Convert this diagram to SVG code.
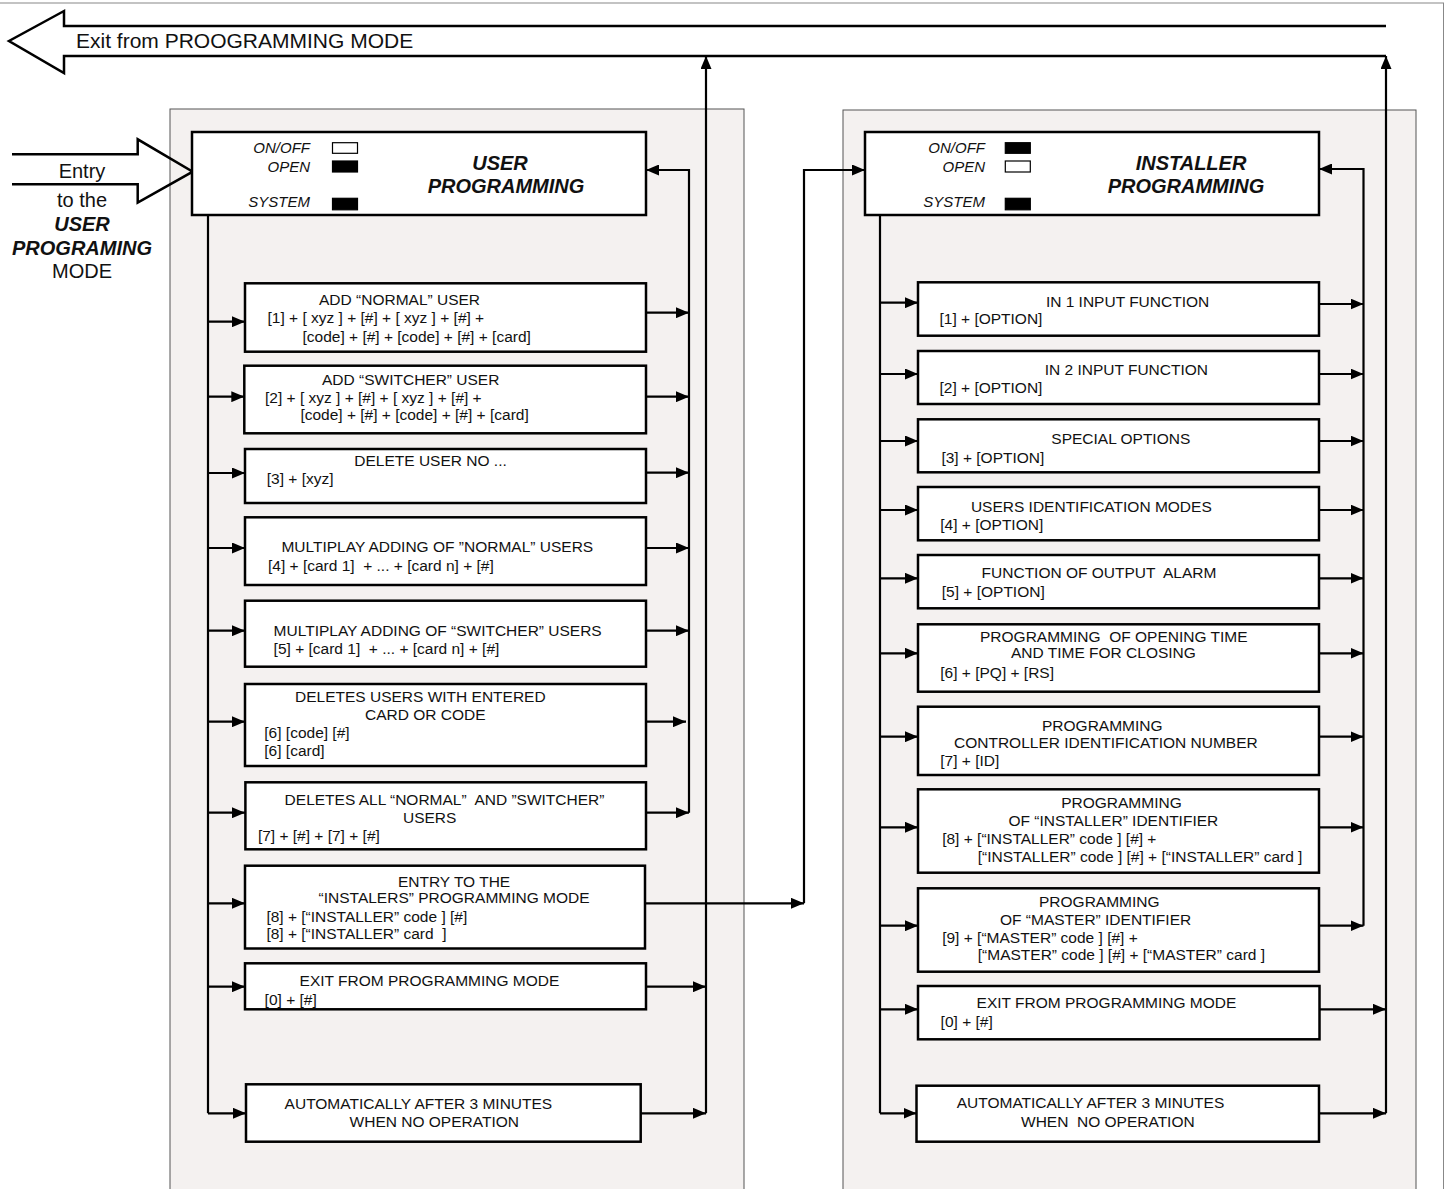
<svg xmlns="http://www.w3.org/2000/svg" width="1450" height="1189" viewBox="0 0 1450 1189">
<defs>
<marker id="ah" markerUnits="userSpaceOnUse" markerWidth="13" markerHeight="11" refX="13" refY="5.5" orient="auto"><path d="M0,0 L13,5.5 L0,11 z" fill="#000"/></marker>
<style>
.panel{fill:#f4f1f0;stroke:#555;stroke-width:1}
.box{fill:#fff;stroke:#000;stroke-width:2.5}
.t{font-family:"Liberation Sans",Arial,sans-serif;font-size:15.5px;fill:#111;white-space:pre}
.lbl{font-family:"Liberation Sans",Arial,sans-serif;font-size:15px;font-style:italic;fill:#111;text-anchor:end}
.ttl{font-family:"Liberation Sans",Arial,sans-serif;font-size:20px;font-style:italic;font-weight:bold;fill:#111;text-anchor:middle}
.big{font-family:"Liberation Sans",Arial,sans-serif;font-size:20px;fill:#111;text-anchor:middle}
.conn{fill:none;stroke:#000;stroke-width:2.2}
.ind{stroke:#000;stroke-width:1.2}
.bigarrow{fill:none;stroke:#000;stroke-width:2.5}
</style>
</defs>
<rect x="-2" y="3" width="1445.5" height="1200" fill="#fff" stroke="#888" stroke-width="1"/>

<g id="exit-arrow">
<polyline class="bigarrow" points="1386,26 64,26 64,11 9,41 64,73 64,56 1386,56"/>
<text x="76" y="48" font-family="Liberation Sans,Arial,sans-serif" font-size="21" fill="#111">Exit from PROOGRAMMING MODE</text>
</g>

<rect id="panel-user" class="panel" x="170" y="109" width="574" height="1090"/>
<rect id="panel-installer" class="panel" x="843" y="110" width="573" height="1090"/>

<g id="entry-arrow">
<polyline class="bigarrow" points="12,154.3 137.7,154.3 137.7,139.3 192.7,171.7 137.7,202.7 137.7,184.3 12,184.3"/>
<text class="big" x="82" y="178">Entry</text>
<text class="big" x="82" y="207">to the</text>
<text class="big" x="82" y="231" font-weight="bold" font-style="italic">USER</text>
<text class="big" x="82" y="255" font-weight="bold" font-style="italic">PROGRAMING</text>
<text class="big" x="82" y="278">MODE</text>
</g>

<g id="connectors">
<!-- left panel -->
<path class="conn" d="M208,215 V1113.3"/>
<path class="conn" marker-end="url(#ah)" d="M208,321.7 H245"/>
<path class="conn" marker-end="url(#ah)" d="M208,396.7 H244.3"/>
<path class="conn" marker-end="url(#ah)" d="M208,473 H245"/>
<path class="conn" marker-end="url(#ah)" d="M208,548 H245"/>
<path class="conn" marker-end="url(#ah)" d="M208,630.7 H245"/>
<path class="conn" marker-end="url(#ah)" d="M208,721.7 H245"/>
<path class="conn" marker-end="url(#ah)" d="M208,812.7 H245"/>
<path class="conn" marker-end="url(#ah)" d="M208,903.3 H245"/>
<path class="conn" marker-end="url(#ah)" d="M208,986.7 H245"/>
<path class="conn" marker-end="url(#ah)" d="M208,1113.3 H246"/>
<path class="conn" marker-end="url(#ah)" d="M646,312.7 H689"/>
<path class="conn" marker-end="url(#ah)" d="M646,396.7 H689"/>
<path class="conn" marker-end="url(#ah)" d="M646,472.7 H689"/>
<path class="conn" marker-end="url(#ah)" d="M646,548 H689"/>
<path class="conn" marker-end="url(#ah)" d="M646,630.7 H689"/>
<path class="conn" marker-end="url(#ah)" d="M646,721.7 H686"/>
<path class="conn" marker-end="url(#ah)" d="M646,812.7 H689"/>
<path class="conn" marker-end="url(#ah)" d="M689,812.7 V170 H646"/>
<path class="conn" marker-end="url(#ah)" d="M646,986.7 H706"/>
<path class="conn" marker-end="url(#ah)" d="M641,1113.3 H706"/>
<path class="conn" marker-end="url(#ah)" d="M706,1113.3 V56"/>
<path class="conn" marker-end="url(#ah)" d="M645,903.3 H804"/>
<path class="conn" marker-end="url(#ah)" d="M804,903.3 V170 H865"/>
<!-- right panel -->
<path class="conn" d="M880,215 V1113.3"/>
<path class="conn" marker-end="url(#ah)" d="M880,302.7 H918"/>
<path class="conn" marker-end="url(#ah)" d="M880,374 H918"/>
<path class="conn" marker-end="url(#ah)" d="M880,441 H918"/>
<path class="conn" marker-end="url(#ah)" d="M880,510 H918"/>
<path class="conn" marker-end="url(#ah)" d="M880,578.3 H918"/>
<path class="conn" marker-end="url(#ah)" d="M880,653.3 H918"/>
<path class="conn" marker-end="url(#ah)" d="M880,736.7 H918"/>
<path class="conn" marker-end="url(#ah)" d="M880,827.3 H918"/>
<path class="conn" marker-end="url(#ah)" d="M880,925.7 H918"/>
<path class="conn" marker-end="url(#ah)" d="M880,1009.3 H918"/>
<path class="conn" marker-end="url(#ah)" d="M880,1113.3 H916.5"/>
<path class="conn" marker-end="url(#ah)" d="M1319,304 H1363.5"/>
<path class="conn" marker-end="url(#ah)" d="M1319,374 H1363.5"/>
<path class="conn" marker-end="url(#ah)" d="M1319,441 H1363.5"/>
<path class="conn" marker-end="url(#ah)" d="M1319,510 H1363.5"/>
<path class="conn" marker-end="url(#ah)" d="M1319,578.3 H1363.5"/>
<path class="conn" marker-end="url(#ah)" d="M1319,653.3 H1363.5"/>
<path class="conn" marker-end="url(#ah)" d="M1319,736.7 H1363.5"/>
<path class="conn" marker-end="url(#ah)" d="M1319,827.3 H1363.5"/>
<path class="conn" marker-end="url(#ah)" d="M1319,925.7 H1363.5"/>
<path class="conn" marker-end="url(#ah)" d="M1363.5,925.7 V169 H1319"/>
<path class="conn" marker-end="url(#ah)" d="M1319.5,1009.3 H1386"/>
<path class="conn" marker-end="url(#ah)" d="M1319,1113.3 H1386"/>
<path class="conn" marker-end="url(#ah)" d="M1386,1113.3 V56"/>
</g>

<g id="user-header">
<rect class="box" x="192" y="132" width="454" height="83"/>
<text class="lbl" x="310" y="153">ON/OFF</text>
<text class="lbl" x="310" y="172">OPEN</text>
<text class="lbl" x="310" y="207">SYSTEM</text>
<rect class="ind" x="332.5" y="142.7" width="25" height="10.6" fill="#fff"/>
<rect class="ind" x="332.5" y="161" width="25" height="11" fill="#000"/>
<rect class="ind" x="332.5" y="198.3" width="25" height="11.5" fill="#000"/>
<text class="ttl" x="500" y="170">USER</text>
<text class="ttl" x="506" y="193">PROGRAMMING</text>
</g>

<g id="u1"><rect class="box" x="245" y="283.3" width="401" height="68.4"/>
<text class="t" x="319" y="305">ADD “NORMAL” USER</text>
<text class="t" x="267.5" y="323.3">[1] + [ xyz ] + [#] + [ xyz ] + [#] +</text>
<text class="t" x="302.5" y="341.7">[code] + [#] + [code] + [#] + [card]</text></g>

<g id="u2"><rect class="box" x="244.3" y="365.7" width="401.7" height="67.6"/>
<text class="t" x="322" y="385">ADD “SWITCHER” USER</text>
<text class="t" x="265" y="403.3">[2] + [ xyz ] + [#] + [ xyz ] + [#] +</text>
<text class="t" x="300.4" y="420">[code] + [#] + [code] + [#] + [card]</text></g>

<g id="u3"><rect class="box" x="245" y="449" width="401" height="54"/>
<text class="t" x="354.3" y="466">DELETE USER NO ...</text>
<text class="t" x="266.8" y="484.3">[3] + [xyz]</text></g>

<g id="u4"><rect class="box" x="245" y="517.3" width="401" height="67.7"/>
<text class="t" x="281.4" y="552.3">MULTIPLAY ADDING OF ”NORMAL” USERS</text>
<text class="t" x="268" y="570.7">[4] + [card 1]  + ... + [card n] + [#]</text></g>

<g id="u5"><rect class="box" x="245" y="600.7" width="401" height="66"/>
<text class="t" x="273.6" y="636">MULTIPLAY ADDING OF “SWITCHER” USERS</text>
<text class="t" x="273.6" y="654">[5] + [card 1]  + ... + [card n] + [#]</text></g>

<g id="u6"><rect class="box" x="245" y="684" width="401" height="82"/>
<text class="t" x="295" y="701.7">DELETES USERS WITH ENTERED</text>
<text class="t" x="365" y="720">CARD OR CODE</text>
<text class="t" x="264.3" y="737.7">[6] [code] [#]</text>
<text class="t" x="264.3" y="755.7">[6] [card]</text></g>

<g id="u7"><rect class="box" x="245.4" y="782.3" width="400.6" height="67"/>
<text class="t" x="284.6" y="805">DELETES ALL “NORMAL”  AND ”SWITCHER”</text>
<text class="t" x="403" y="822.7">USERS</text>
<text class="t" x="257.9" y="840.7">[7] + [#] + [7] + [#]</text></g>

<g id="u8"><rect class="box" x="245" y="865.7" width="400" height="82.8"/>
<text class="t" x="397.9" y="886.7">ENTRY TO THE</text>
<text class="t" x="318.6" y="903.3">“INSTALERS” PROGRAMMING MODE</text>
<text class="t" x="266.4" y="921.7">[8] + [“INSTALLER” code ] [#]</text>
<text class="t" x="266.4" y="939.3">[8] + [“INSTALLER” card  ]</text></g>

<g id="u9"><rect class="box" x="245" y="963.3" width="401" height="46"/>
<text class="t" x="299.6" y="985.7">EXIT FROM PROGRAMMING MODE</text>
<text class="t" x="264.6" y="1005">[0] + [#]</text></g>

<g id="u10"><rect class="box" x="246" y="1084.3" width="394.7" height="57.4"/>
<text class="t" x="284.6" y="1109">AUTOMATICALLY AFTER 3 MINUTES</text>
<text class="t" x="349.6" y="1126.7">WHEN NO OPERATION</text></g>

<g id="installer-header">
<rect class="box" x="865" y="132" width="454" height="83"/>
<text class="lbl" x="985" y="153">ON/OFF</text>
<text class="lbl" x="985" y="172">OPEN</text>
<text class="lbl" x="985" y="207">SYSTEM</text>
<rect class="ind" x="1005.3" y="142.7" width="25" height="10.6" fill="#000"/>
<rect class="ind" x="1005.3" y="161" width="25" height="11" fill="#fff"/>
<rect class="ind" x="1005.3" y="198.3" width="25" height="11.5" fill="#000"/>
<text class="ttl" x="1191" y="170">INSTALLER</text>
<text class="ttl" x="1186" y="193">PROGRAMMING</text>
</g>

<g id="i1"><rect class="box" x="918" y="282.3" width="401" height="53.4"/>
<text class="t" x="1045.9" y="306.7">IN 1 INPUT FUNCTION</text>
<text class="t" x="939.5" y="324">[1] + [OPTION]</text></g>

<g id="i2"><rect class="box" x="918" y="351" width="401" height="53"/>
<text class="t" x="1044.7" y="375">IN 2 INPUT FUNCTION</text>
<text class="t" x="939.5" y="393.3">[2] + [OPTION]</text></g>

<g id="i3"><rect class="box" x="918" y="419.3" width="401" height="53"/>
<text class="t" x="1051.3" y="444.3">SPECIAL OPTIONS</text>
<text class="t" x="941.4" y="462.7">[3] + [OPTION]</text></g>

<g id="i4"><rect class="box" x="918" y="487" width="401" height="53.3"/>
<text class="t" x="970.9" y="511.7">USERS IDENTIFICATION MODES</text>
<text class="t" x="940.3" y="530">[4] + [OPTION]</text></g>

<g id="i5"><rect class="box" x="918" y="555" width="401" height="53.3"/>
<text class="t" x="981.6" y="578.3">FUNCTION OF OUTPUT  ALARM</text>
<text class="t" x="941.8" y="596.7">[5] + [OPTION]</text></g>

<g id="i6"><rect class="box" x="918" y="624.3" width="401" height="67.4"/>
<text class="t" x="980" y="641.7">PROGRAMMING  OF OPENING TIME</text>
<text class="t" x="1011" y="658.3">AND TIME FOR CLOSING</text>
<text class="t" x="940.3" y="678.3">[6] + [PQ] + [RS]</text></g>

<g id="i7"><rect class="box" x="918" y="706.7" width="401" height="68.3"/>
<text class="t" x="1042" y="730.7">PROGRAMMING</text>
<text class="t" x="954" y="748.3">CONTROLLER IDENTIFICATION NUMBER</text>
<text class="t" x="940.3" y="766">[7] + [ID]</text></g>

<g id="i8"><rect class="box" x="918" y="789.3" width="401" height="83.4"/>
<text class="t" x="1061.2" y="808.3">PROGRAMMING</text>
<text class="t" x="1008.4" y="826">OF “INSTALLER” IDENTIFIER</text>
<text class="t" x="942.2" y="844">[8] + [“INSTALLER” code ] [#] +</text>
<text class="t" x="977.8" y="861.7">[“INSTALLER” code ] [#] + [“INSTALLER” card ]</text></g>

<g id="i9"><rect class="box" x="918" y="888.3" width="401" height="83.4"/>
<text class="t" x="1039" y="907.3">PROGRAMMING</text>
<text class="t" x="1000" y="925">OF “MASTER” IDENTIFIER</text>
<text class="t" x="942.2" y="943.3">[9] + [“MASTER” code ] [#] +</text>
<text class="t" x="977.8" y="960">[“MASTER” code ] [#] + [“MASTER” card ]</text></g>

<g id="i10"><rect class="box" x="918" y="986" width="401.5" height="53.3"/>
<text class="t" x="976.6" y="1008.3">EXIT FROM PROGRAMMING MODE</text>
<text class="t" x="940.6" y="1026.7">[0] + [#]</text></g>

<g id="i11"><rect class="box" x="916.5" y="1085.7" width="402.5" height="56"/>
<text class="t" x="956.7" y="1108.3">AUTOMATICALLY AFTER 3 MINUTES</text>
<text class="t" x="1021" y="1126.7">WHEN  NO OPERATION</text></g>
</svg>
